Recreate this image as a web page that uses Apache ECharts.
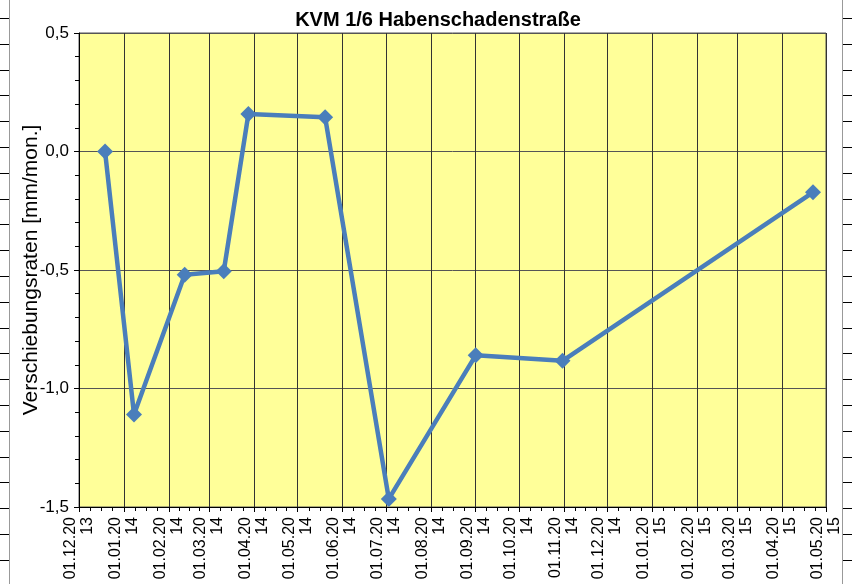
<!DOCTYPE html>
<html>
<head>
<meta charset="utf-8">
<script src="https://cdn.jsdelivr.net/npm/echarts@6/dist/echarts.min.js"></script>
<style>
  html, body { margin: 0; padding: 0; background: #fff; }
  #chart { width: 852px; height: 584px; }
</style>
</head>
<body>
<div id="chart"></div>
<script>
    // Messdaten KVM 1/6
    var messDaten = ['2013-12-19', '2014-01-08', '2014-02-12', '2014-03-11', '2014-03-28',
                     '2014-05-20', '2014-07-03', '2014-09-01', '2014-10-31', '2015-04-22'];
    var raten = [0.0, -1.11, -0.52, -0.505, 0.158, 0.145, -1.466, -0.86, -0.883, -0.172];
    var yTicks = [-1.5, -1.0, -0.5, 0.0, 0.5];
    var titel = 'KVM 1/6 Habenschadenstraße';
    var achsenName = 'Verschiebungsraten [mm/mon.]';

    function toDate(s) {
        var p = s.split('-');
        return new Date(+p[0], +p[1] - 1, +p[2]).getTime();
    }
    function pad(n) { return n < 10 ? '0' + n : '' + n; }

    var seriesData = [];
    for (var i = 0; i < messDaten.length; i++) {
        seriesData.push([toDate(messDaten[i]), raten[i]]);
    }

    // Randmarkierungen links/rechts (Seitenrand)
    var deko = [
        { type: 'line', shape: { x1: 9.5, y1: 0, x2: 9.5, y2: 584 }, style: { stroke: '#999', lineWidth: 1 } },
        { type: 'line', shape: { x1: 842.5, y1: 0, x2: 842.5, y2: 584 }, style: { stroke: '#999', lineWidth: 1 } }
    ];
    for (var k = 0; k < 22; k++) {
        var y = Math.round(18 + 25.8 * k) + 0.5;
        deko.push({ type: 'line', shape: { x1: 0, y1: y, x2: 9, y2: y }, style: { stroke: '#000', lineWidth: 1 } });
        deko.push({ type: 'line', shape: { x1: 843, y1: y, x2: 852, y2: y }, style: { stroke: '#000', lineWidth: 1 } });
    }

    var chart = echarts.init(document.getElementById('chart'));
    var option = {
        animation: false,
        textStyle: { fontFamily: 'Liberation Sans, Arial, sans-serif' },
        title: {
            text: titel,
            left: 433,
            textAlign: 'center',
            top: 5,
            textStyle: { fontSize: 20, fontWeight: 'bold', color: '#000' }
        },
        grid: {
            left: 79,
            right: 26,
            top: 33,
            bottom: 77,
            show: true,
            backgroundColor: '#FFFF99',
            borderColor: '#555',
            borderWidth: 1
        },
        graphic: deko,
        xAxis: {
            type: 'time',
            min: toDate('2013-12-01'),
            max: toDate('2015-05-01'),
            splitNumber: 17,
            minInterval: 28 * 86400000,
            maxInterval: 31 * 86400000,
            axisLine: { show: true, onZero: false, lineStyle: { color: '#000', width: 1 } },
            axisTick: { show: true, inside: false, length: 5, lineStyle: { color: '#000' } },
            minorTick: { show: true, splitNumber: 4, length: 4, lineStyle: { color: '#000' } },
            splitLine: { show: true, lineStyle: { color: '#333', width: 1 } },
            axisLabel: {
                rotate: 90,
                fontSize: 16,
                lineHeight: 17,
                color: '#000',
                margin: 10,
                hideOverlap: false,
                showMinLabel: true,
                showMaxLabel: true,
                formatter: function (v) {
                    var d = new Date(v);
                    var yy = '' + d.getFullYear();
                    return pad(d.getDate()) + '.' + pad(d.getMonth() + 1) + '.' + yy.substr(0, 2) + '\n' + yy.substr(2);
                }
            }
        },
        yAxis: {
            type: 'value',
            min: yTicks[0],
            max: yTicks[yTicks.length - 1],
            interval: 0.5,
            name: achsenName,
            nameLocation: 'middle',
            nameGap: 37,
            nameMoveOverlap: false,
            nameTextStyle: { fontSize: 21, color: '#000' },
            axisLine: { show: true, onZero: false, lineStyle: { color: '#000', width: 1 } },
            axisTick: { show: true, length: 5, lineStyle: { color: '#000' } },
            minorTick: { show: true, splitNumber: 5, length: 4, lineStyle: { color: '#000' } },
            splitLine: { show: true, lineStyle: { color: '#555', width: 1 } },
            axisLabel: {
                fontSize: 17,
                color: '#000',
                margin: 10,
                formatter: function (v) { return v.toFixed(1).replace('.', ','); }
            }
        },
        series: [{
            type: 'line',
            data: seriesData,
            symbol: 'diamond',
            symbolSize: 16,
            lineStyle: { color: '#4A7EBB', width: 4.5 },
            itemStyle: { color: '#4A7EBB' }
        }]
    };
    chart.setOption(option, true);
    window.addEventListener('resize', function () {
        chart.resize();
    });
</script>
</body>
</html>
